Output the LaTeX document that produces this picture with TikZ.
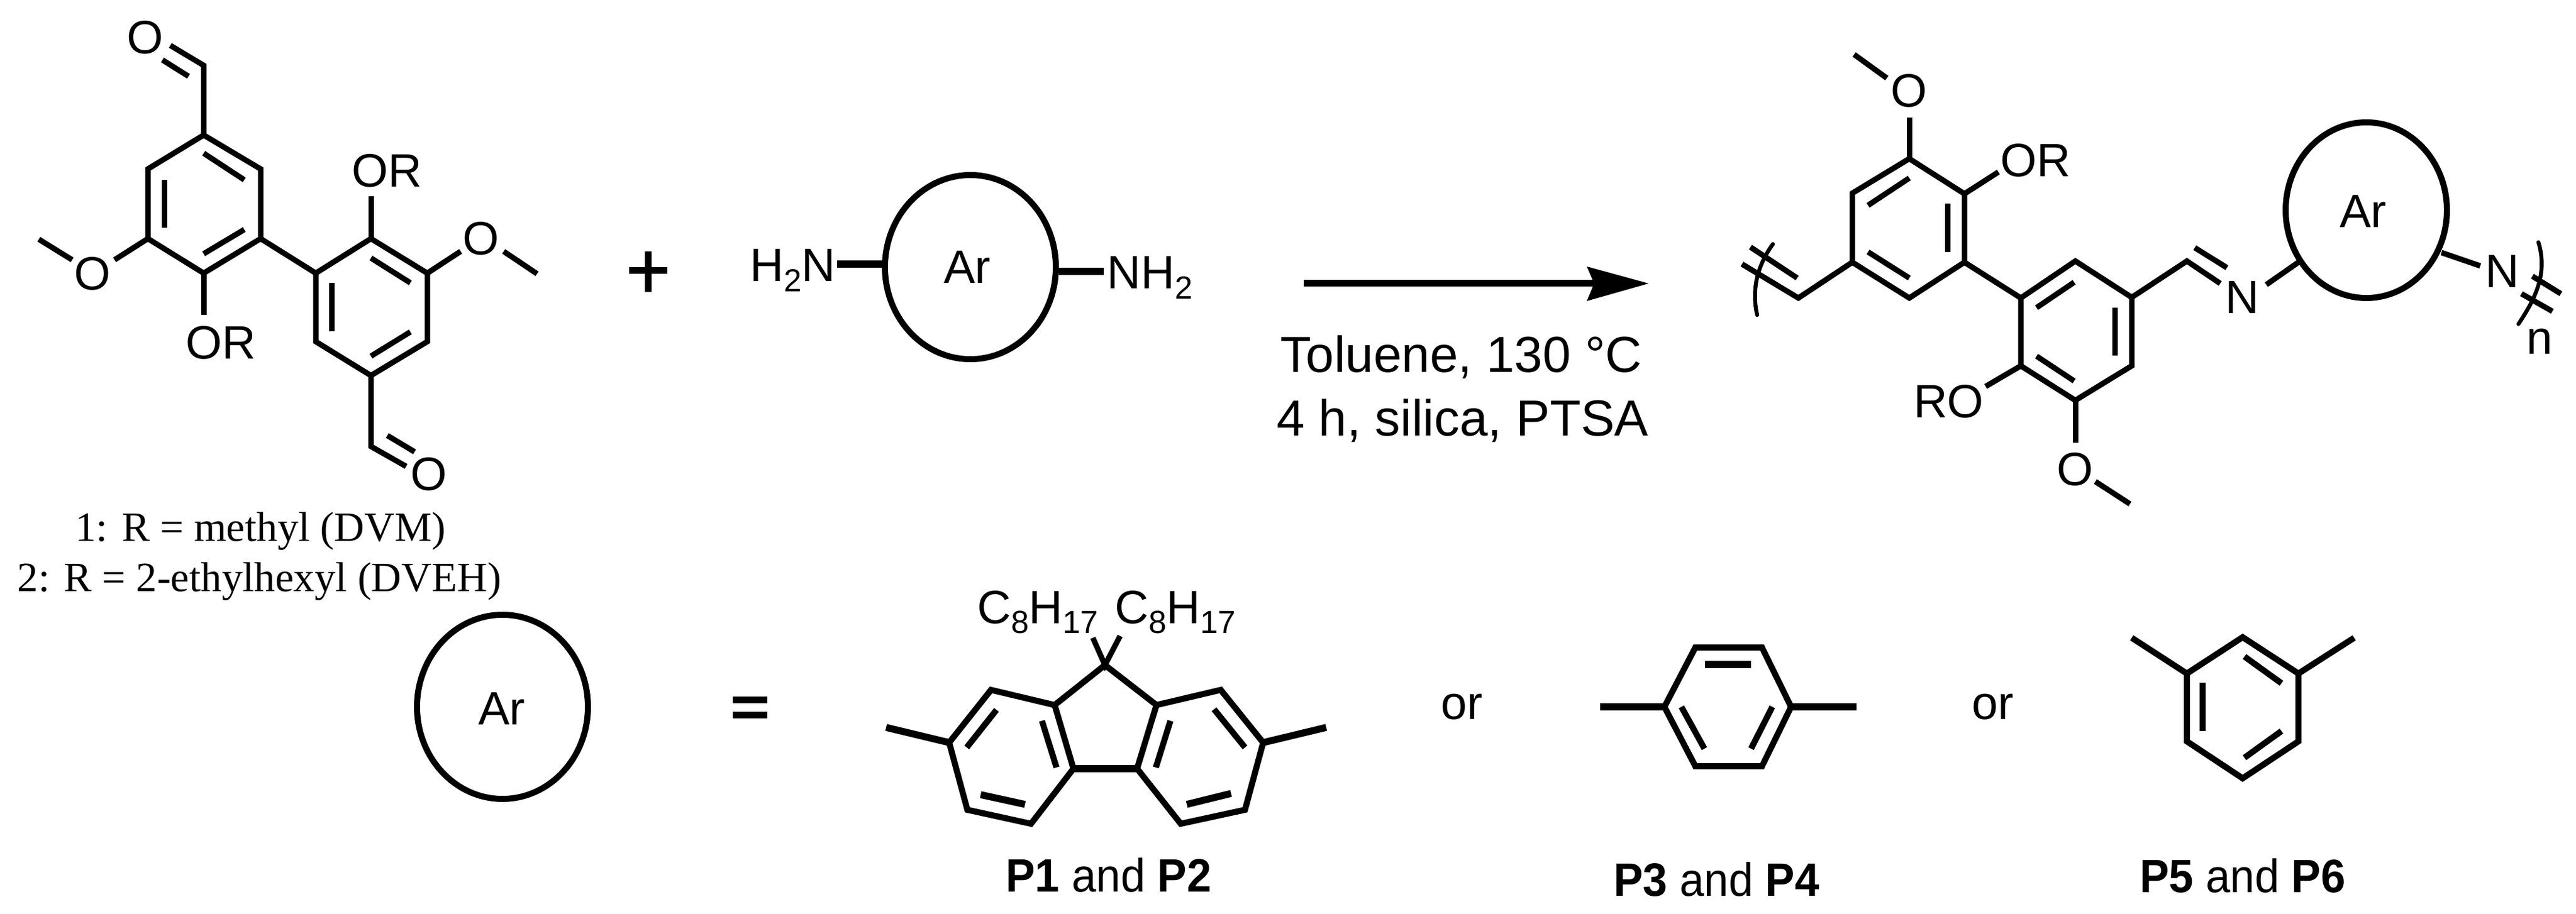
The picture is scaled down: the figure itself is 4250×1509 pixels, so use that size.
\documentclass[tikz,border=0pt]{standalone}
\usepackage{fontspec}
\setmainfont{Liberation Sans}
\newfontfamily\capfont{Liberation Serif}
\usetikzlibrary{shapes.geometric}
\newcommand{\fsz}{\fontsize{22}{26}\selectfont}
\newcommand{\fszb}{\fontsize{23.8}{28}\selectfont}
\newcommand{\low}[1]{\raisebox{-4.8pt}{\fontsize{15}{15}\selectfont #1}}
\newcommand{\narrow}[1]{\scalebox{0.94}[1]{#1}}
\tikzset{
  bond/.style={line width=0.9mm,line join=miter,line cap=butt,black},
  bondlow/.style={bond,line width=1mm},
  bondflat/.style={bond,line width=1.15mm},
  heavy/.style={line width=1.1mm,line cap=butt,black},
  brk/.style={line width=0.65mm,line cap=round,black},
  lab/.style={anchor=base,inner sep=0pt,outer sep=0pt,font=\fsz,text=black},
  labb/.style={lab,font=\fszb},
  capt/.style={lab,font=\capfont\fontsize{19.6}{23}\selectfont},
  arbig/.style={ellipse,draw=black,line width=1mm,inner sep=0pt,outer sep=0pt,minimum width=28.2mm,minimum height=30.4mm},
  arsmall/.style={arbig,minimum width=26.6mm,minimum height=29mm}
}
\begin{document}
\begin{tikzpicture}[x=0.1mm,y=-0.1mm]
\useasboundingbox (0,0) rectangle (4250,1509);
\fill[white] (0,0) rectangle (4250,1509);

% ---------- dialdehyde monomer ----------
\draw[bond] (336,223) -- (430,279) -- (430,394) -- (336,451) -- (244,394) -- (244,279) -- cycle;
\draw[bond] (336,253) -- (403,297);
\draw[bond] (271,297) -- (271,376);
\draw[bond] (336,419) -- (403,379);
\draw[bond] (336,223) -- (336,108) -- (281,75);
\draw[bond] (311,126) -- (268,99);
\node[lab] (o1) at (240,89) {O};
\draw[bond] (244,394) -- (189,429);
\node[lab] (o2) at (153,479) {O};
\draw[bond] (119,429) -- (64,395);
\draw[bond] (336,451) -- (336,520);
\node[lab] (or1) at (364,593) {OR};
\draw[bond] (430,394) -- (521,451);
\draw[bond] (612,394) -- (705,451) -- (705,564) -- (612,620) -- (521,564) -- (521,451) -- cycle;
\draw[bond] (612,426) -- (677,467);
\draw[bond] (677,548) -- (612,588);
\draw[bond] (547,467) -- (547,547);
\draw[bond] (612,394) -- (612,324);
\node[lab] (or2) at (638,309) {OR};
\draw[bond] (705,451) -- (760,415);
\node[lab] (o3) at (794,421) {O};
\draw[bond] (831,415) -- (886,452);
\draw[bond] (612,620) -- (612,737) -- (670,770);
\draw[bond] (639,719) -- (684,746);
\node[lab] (o4) at (708,810) {O};
\node[capt] (c1) at (430,894) {1: R = methyl (DVM)};
\node[capt] (c2) at (428,976) {2: R = 2-ethylhexyl (DVEH)};

% ---------- plus and diamine ----------
\draw[heavy] (1038,447) -- (1101,447);
\draw[heavy] (1069,415) -- (1069,482);
\node[lab] (h2n) at (1308,465) {H\low{2}N};
\draw[bondflat] (1381,436) -- (1456,436);
\node[arbig] (ar1) at (1601,441) {};
\node[lab] (art1) at (1596,468) {Ar};
\draw[bondflat] (1747,448) -- (1821,448);
\node[lab] (nh2) at (1897,477) {NH\low{2}};

% ---------- reaction arrow ----------
\coordinate (as) at (2151,468);
\coordinate (ae) at (2640,468);
\draw[line width=1.1mm,black] (as) -- (ae);
\fill[black] (2720,468) -- (2618,440) -- (2630,468) -- (2618,497) -- cycle;
\node[labb] (t1) at (2411,615) {Toluene, 130 °C};
\node[labb] (t2) at (2413,720) {4 h, silica, PTSA};

% ---------- polymer ----------
\draw[bond] (3150,262) -- (3241,320) -- (3241,433) -- (3150,492) -- (3056,433) -- (3056,319) -- cycle;
\draw[bond] (3082,339) -- (3150,294);
\draw[bond] (3213,336) -- (3213,416);
\draw[bond] (3082,416) -- (3150,459);
\draw[bond] (3150,262) -- (3150,194);
\node[lab] (o5) at (3150,177) {O};
\draw[bond] (3113,129) -- (3059,90);
\draw[bond] (3241,320) -- (3297,284);
\node[lab] (or3) at (3358,292) {OR};
\draw[bond] (3056,433) -- (2967,492) -- (2874,436);
\draw[bond] (2965,459) -- (2888,408);
\draw[brk] (2925,403) .. controls (2898,440) and (2890,480) .. (2899,520);
\draw[bond] (3241,433) -- (3334,492);
\draw[bond] (3334,492) -- (3424,431) -- (3517,491) -- (3517,604) -- (3424,661) -- (3334,604) -- cycle;
\draw[bond] (3360,508) -- (3422,466);
\draw[bond] (3489,508) -- (3489,587);
\draw[bond] (3360,588) -- (3422,629);
\draw[bond] (3334,604) -- (3276,638);
\node[lab] (ro) at (3215,690) {RO};
\draw[bond] (3424,661) -- (3424,731);
\node[lab] (o6) at (3424,802) {O};
\draw[bond] (3457,795) -- (3514,832);
\draw[bond] (3517,491) -- (3608,431) -- (3663,468);
\draw[bond] (3621,409) -- (3674,442);
\node[lab] (n1) at (3699,518) {N};
\draw[bond] (3739,470) -- (3792,433);
\node[arsmall] (ar2) at (3904,347) {};
\node[lab] (art2) at (3899,376) {Ar};
\draw[bond] (4028,417) -- (4092,439);
\node[lab] (n2) at (4128,475) {N};
\draw[bond] (4178,456) -- (4225,485);
\draw[bond] (4160,485) -- (4211,514);
\draw[brk] (4188,400) .. controls (4203,450) and (4185,490) .. (4155,535);
\node[lab] (nn) at (4190,585) {n};

% ---------- Ar definition ----------
\node[arbig] (ar3) at (829,1167) {};
\node[lab] (art3) at (828,1196) {Ar};
\draw[heavy] (1209,1155) -- (1266,1155);
\draw[heavy] (1209,1180) -- (1266,1180);

% ---------- fluorene ----------
\node[lab] (c8a) at (1712,1029) {C\low{8}H\low{17}};
\node[lab] (c8b) at (1939,1029) {C\low{8}H\low{17}};
\draw[bond] (1803,1053) -- (1823,1098) -- (1848,1050);
\draw[bondlow] (1771,1269) -- (1740,1164) -- (1823,1098) -- (1908,1164) -- (1876,1269);
\draw[bondlow] (1740,1164) -- (1635,1139) -- (1566,1226) -- (1596,1337) -- (1701,1360) -- (1771,1269);
\draw[bondlow] (1908,1164) -- (2014,1139) -- (2084,1226) -- (2054,1337) -- (1948,1360) -- (1876,1269);
\draw[bondflat] (1771,1269) -- (1876,1269);
\draw[bondflat] (1462,1201) -- (1566,1226);
\draw[bondflat] (2188,1201) -- (2084,1226);
\draw[bondlow] (1644,1172) -- (1595,1234);
\draw[bondlow] (1719,1190) -- (1743,1267);
\draw[bondflat] (1618,1312) -- (1691,1328);
\draw[bondlow] (2003,1171) -- (2054,1234);
\draw[bondlow] (1931,1190) -- (1907,1267);
\draw[bondflat] (2031,1310) -- (1958,1328);
\node[lab] (p12) at (1829,1472) {\narrow{\textbf{P1} and \textbf{P2}}};

\node[lab] (or4) at (2412,1187) {or};

% ---------- p-phenylene ----------
\draw[bondlow] (2797,1069) -- (2907,1069) -- (2955,1167) -- (2907,1265) -- (2797,1265) -- (2746,1167) -- cycle;
\draw[bondflat] (2640,1167) -- (2746,1167);
\draw[bondflat] (2955,1167) -- (3063,1167);
\draw[bondflat] (2813,1097) -- (2889,1097);
\draw[bondlow] (2774,1167) -- (2812,1236);
\draw[bondlow] (2924,1167) -- (2889,1236);
\node[lab] (p34) at (2832,1479) {\narrow{\textbf{P3} and \textbf{P4}}};

\node[lab] (or5) at (3288,1187) {or};

% ---------- m-phenylene ----------
\draw[bondlow] (3700,1052) -- (3792,1112) -- (3792,1224) -- (3700,1285) -- (3608,1224) -- (3608,1112) -- cycle;
\draw[bondlow] (3517,1053) -- (3608,1112);
\draw[bondlow] (3884,1053) -- (3792,1112);
\draw[bondlow] (3703,1084) -- (3764,1128);
\draw[bondlow] (3634,1127) -- (3634,1207);
\draw[bondlow] (3764,1207) -- (3703,1251);
\node[lab] (p56) at (3700,1473) {\narrow{\textbf{P5} and \textbf{P6}}};
\end{tikzpicture}
\end{document}
